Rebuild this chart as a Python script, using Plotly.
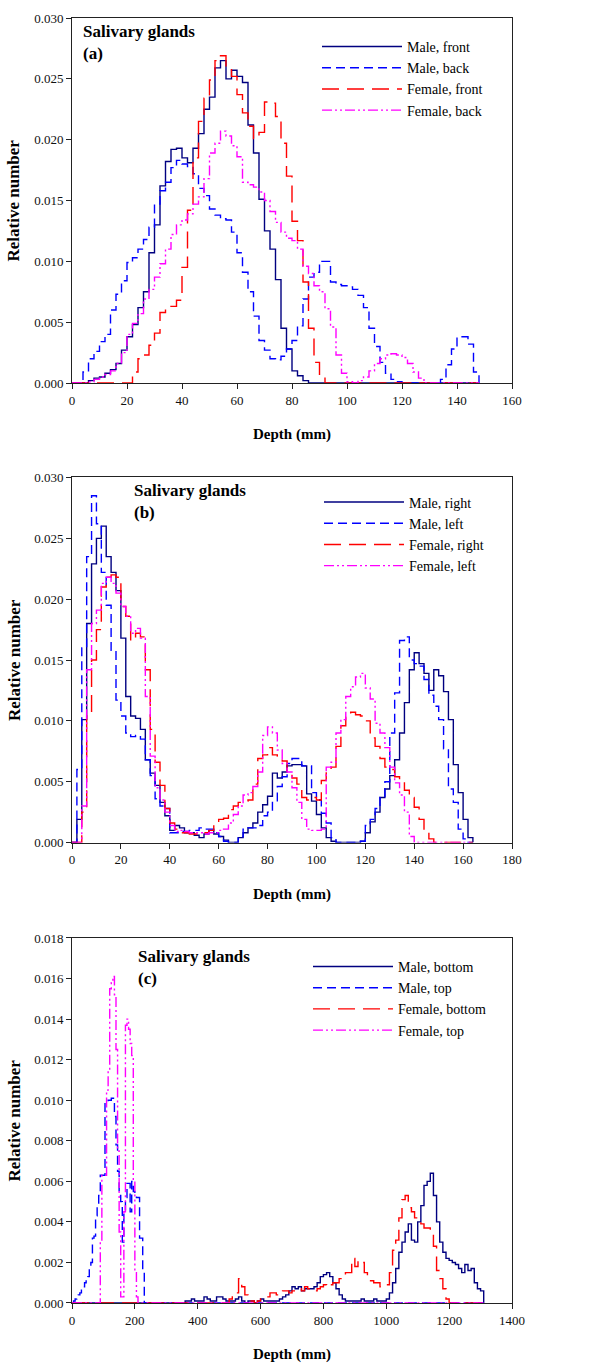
import plotly.graph_objects as go

# ---------------- Panel (a): front / back, 2 mm bins ----------------
A_BIN = 2
A_END = 148
A_MALE_FRONT_START = 6
A_MALE_FRONT = [
    .0002, .0004, .0005, .0008, .0011, .0016, .0027, .0038, .0048, .0062,
    .0075, .0107, .013, .0162, .0182, .0192, .0193, .0185, .0181, .0193,
    .0205, .0225, .0235, .0259, .0265, .025, .0257, .0252, .0247, .0212,
    .0189, .0151, .0125, .011, .0085, .0045, .0028, .001, .0006, .0002]
A_MALE_BACK_START = 4
A_MALE_BACK = [
    .0009, .002, .0026, .0034, .004, .006, .0073, .0084, .0099, .0103,
    .011, .0118, .0128, .0147, .0158, .0165, .0177, .0183, .018, .0178,
    .0172, .016, .0154, .0143, .0138, .0135, .0134, .0124, .0107, .0091,
    .0075, .0055, .0035, .0027, .002, .0019, .0022, .0028, .0035, .0047,
    .0069, .0087, .0091, .01, .01, .0083, .0081, .008, .0079, .0077,
    .0072, .0062, .0045, .003, .0017, .0008, .0003, .0001, 0, 0,
    0, 0, 0, 0, 0, .0003, .0015, .0028, .0038, .0038,
    .0032, .0009]
A_FEMALE_FRONT_START = 22
A_FEMALE_FRONT = [
    .0009, .002, .0023, .0031, .0041, .0058, .0062, .0063, .0068, .0095,
    .0142, .0185, .0215, .0234, .0249, .0265, .0269, .026, .0252, .0237,
    .0222, .0211, .0201, .0206, .0231, .023, .0219, .0197, .017, .0133,
    .0117, .0083, .0045, .0017, .0004]
A_FEMALE_BACK_START = 6
A_FEMALE_BACK = [
    .0001, .0003, .0005, .0007, .001, .0016, .0025, .004, .0049, .0057,
    .0069, .0077, .0087, .0098, .011, .0122, .013, .0134, .0139, .0147,
    .0153, .0168, .0189, .0197, .0207, .0203, .0195, .0186, .0165, .0163,
    .0161, .0157, .015, .0141, .0132, .0124, .0119, .0117, .011, .0096,
    .009, .008, .0075, .0061, .0046, .0023, .0008, .0001, 0, .0002,
    .0005, .001, .0016, .002, .0023, .0024, .0023, .0021, .0016, .0009, .0004]

# ---------------- Panel (b): right / left, 2 mm bins ----------------
B_BIN = 2
B_END = 164
B_MALE_RIGHT_START = 2
B_MALE_RIGHT = [
    .0019, .0101, .018, .0229, .025, .026, .0235, .0222, .0207, .0168,
    .012, .0104, .0102, .0093, .0068, .0057, .0047, .0033, .0022, .001,
    .0014, .0012, .0008, .0008, .0006, .0004, .0007, .001, .0007, .0005,
    .0002, 0, 0, .0004, .0008, .0012, .0016, .0025, .0031, .0038,
    .0057, .0053, .0058, .0063, .0064, .0064, .0063, .004, .0034, .0023,
    .0012, .0004, .0001, 0, 0, 0, 0, 0, .0001, .0008,
    .0017, .0025, .0037, .0044, .0055, .0068, .009, .0115, .0142, .0156,
    .0147, .0139, .0125, .0142, .0137, .0124, .0101, .0064, .0041, .0019,
    .0004]
B_MALE_LEFT_START = 2
B_MALE_LEFT = [
    .006, .016, .0235, .0285, .0262, .0222, .0195, .0158, .0117, .0104,
    .009, .0087, .0088, .0085, .0068, .0055, .0036, .003, .0028, .0008,
    .0008, .0009, .0009, .001, .001, .0012, .0011, .0011, .0008, .0005,
    .0001, 0, 0, .0005, .0011, .0012, .0012, .0014, .0022, .0025,
    .0033, .0046, .0054, .0065, .0069, .0069, .0063, .0063, .0041, .0035,
    .0024, .0016, .0004, 0, 0, 0, 0, 0, .0001, .0014,
    .0019, .0028, .0037, .005, .009, .0123, .0166, .0169, .015, .0147,
    .0145, .0134, .0121, .0112, .0101, .0077, .0044, .0033, .0011, .0003]
B_FEMALE_RIGHT_START = 4
B_FEMALE_RIGHT = [
    .0025, .0104, .015, .0175, .021, .0218, .022, .0218, .0194, .0186,
    .0166, .0172, .0169, .0142, .0093, .0066, .0047, .0028, .0016, .0011,
    .0008, .0008, .0007, .0007, .0007, .0008, .001, .0015, .0019, .002,
    .0027, .003, .0033, .0034, .0035, .0048, .0069, .0072, .0078, .0072,
    .0071, .0067, .0058, .0053, .0048, .0037, .0035, .0037, .0035, .0051,
    .0058, .0062, .0079, .0096, .0103, .0107, .0105, .0104, .01, .0086,
    .0079, .0069, .0062, .006, .0054, .005, .0043, .0037, .0029, .0019,
    .0009, .0003]
B_FEMALE_LEFT_START = 4
B_FEMALE_LEFT = [
    .003, .0142, .018, .0191, .0213, .0218, .0213, .0205, .0194, .0186,
    .0172, .0176, .0168, .012, .0071, .0045, .0035, .0025, .0014, .0009,
    .001, .0009, .0008, .0008, .0008, .0007, .0008, .0008, .001, .0011,
    .0016, .0023, .003, .0039, .0041, .0046, .0058, .0088, .0095, .009,
    .0076, .0065, .0058, .0045, .0033, .0019, .0011, .001, .001, .0011,
    .0062, .0066, .009, .0101, .012, .0128, .0136, .0139, .0127, .0118,
    .0098, .009, .0078, .0062, .0049, .0039, .0025, .0005]

# ---------------- Panel (c): bottom / top ----------------
C_END = 1310
C_TOP_BIN = 5
C_BOTTOM_BIN = 10
C_MALE_BOTTOM_START = 360
C_MALE_BOTTOM = [
    .0001, .0001, .0002, .0001, .0001, .0001, .0003, .0002, .0001, .0001,
    .0003, .0003, .0002, .0001, .0001, .0001, .0002, .0003, .0001, 0,
    .0001, .0001, 0, .0001, .0002, .0001, .0001, .0001, .0001, .0001,
    .0002, .0003, .0004, .0006, .0008, .0007, .0008, .0006, .0007, .0007,
    .0007, .0008, .001, .0013, .0014, .0015, .0013, .001, .0007, .0004,
    .0002, .0001, .0001, .0001, .0001, .0001, .0002, .0001, .0001, .0001,
    .0002, .0001, .0001, .0001, .0002, .0005, .001, .0017, .0025, .003,
    .0035, .0039, .0031, .003, .004, .0048, .0058, .006, .0064, .0053,
    .004, .003, .0025, .0022, .0021, .002, .0019, .0017, .0015, .0019,
    .0016, .0017, .001, .0007, .0006]
C_MALE_TOP_START = 5
C_MALE_TOP = [
    .0001, .0002, .0003, .0004, .0005, .0007, .0008, .001, .0012, .0013,
    .0017, .002, .0032, .0033, .0043, .0048, .0053, .0063, .0063, .0063,
    .0099, .0099, .01, .01, .0101, .0101, .0092, .0078, .0065, .0053,
    .005, .003, .0045, .0052, .0059, .0059, .0045, .006, .0055, .0053,
    .0052, .0052, .0032, .0032, .0017]
C_FEMALE_BOTTOM_START = 500
C_FEMALE_BOTTOM = [
    .0002, .0004, .0005, .0012, .0008, .0004, .0001, .0001, 0, .0001,
    .0002, .0003, .0003, .0005, .0005, .0004, .0004, .0006, .0006, .0005,
    .0006, .0007, .0007, .0006, .0008, .0007, .0006, .0006, .0007, .0008,
    .0009, .0008, .0009, .001, .001, .0012, .0012, .0015, .0015, .0022,
    .0018, .0021, .002, .0015, .0012, .0011, .001, .001, .0008, .0008,
    .0009, .0015, .0026, .0031, .0042, .0051, .0053, .0047, .0045, .0042,
    .004, .0039, .0037, .0037, .0036, .0028, .0016, .0012, .0007, .0002]
C_FEMALE_TOP_START = 90
C_FEMALE_TOP = [
    .003, .0063, .0063, .0063, .0105, .0115, .0155, .0158, .0161, .0152,
    .0125, .0075, .0035, .0003, .0003, .0045, .0137, .014, .0135, .0128,
    .0122, .006, .0015, .0003]

PANELS = [
    dict(tag="(a)", xmax=160, xdtick=20, ymax=0.030, ydtick=0.005, end=A_END,
         names=["Male, front", "Male, back", "Female, front", "Female, back"],
         data=[(A_MALE_FRONT_START, A_BIN, A_MALE_FRONT), (A_MALE_BACK_START, A_BIN, A_MALE_BACK),
               (A_FEMALE_FRONT_START, A_BIN, A_FEMALE_FRONT), (A_FEMALE_BACK_START, A_BIN, A_FEMALE_BACK)]),
    dict(tag="(b)", xmax=180, xdtick=20, ymax=0.030, ydtick=0.005, end=B_END,
         names=["Male, right", "Male, left", "Female, right", "Female, left"],
         data=[(B_MALE_RIGHT_START, B_BIN, B_MALE_RIGHT), (B_MALE_LEFT_START, B_BIN, B_MALE_LEFT),
               (B_FEMALE_RIGHT_START, B_BIN, B_FEMALE_RIGHT), (B_FEMALE_LEFT_START, B_BIN, B_FEMALE_LEFT)]),
    dict(tag="(c)", xmax=1400, xdtick=200, ymax=0.018, ydtick=0.002, end=C_END,
         names=["Male, bottom", "Male, top", "Female, bottom", "Female, top"],
         data=[(C_MALE_BOTTOM_START, C_BOTTOM_BIN, C_MALE_BOTTOM), (C_MALE_TOP_START, C_TOP_BIN, C_MALE_TOP),
               (C_FEMALE_BOTTOM_START, C_BOTTOM_BIN, C_FEMALE_BOTTOM), (C_FEMALE_TOP_START, C_TOP_BIN, C_FEMALE_TOP)]),
]

STYLES = [
    dict(color="#000080", dash="solid"),
    dict(color="#0000ff", dash="9px,5px"),
    dict(color="#ff0000", dash="17px,8px"),
    dict(color="#ff00ff", dash="10px,3px,2px,3px,2px,3px"),
]


def steps(start, width, vals, end):
    n = int(round(end / width))
    ys = [0.0] * n
    i0 = int(round(start / width))
    for k, v in enumerate(vals):
        ys[i0 + k] = v
    xs = [i * width for i in range(n)] + [end]
    ys = ys + [0.0]
    return xs, ys


# pixel geometry (page 611 x 1366)
W, H = 611, 1366
ML, MR, MT, MB = 72, 99, 11, 63
PLOT_H = H - MT - MB
panel_px = [(11, 378), (473, 840), (936, 1303)]  # top, bottom pixel rows


def py2paper(py):
    return (H - MB - py) / PLOT_H


def px2paper(px):
    return (px - ML) / (W - ML - MR)


SERIF = "Liberation Serif, Times New Roman, serif"
fig = go.Figure()
layout = dict(
    width=W, height=H,
    margin=dict(l=ML, r=MR, t=MT, b=MB),
    paper_bgcolor="white", plot_bgcolor="white",
    font=dict(family=SERIF, size=13, color="black"),
    showlegend=True,
)
annotations = []
legend_pos = [(317, 24), (319, 482), (308, 949)]
title_pos = [(81, 13), (132, 475), (136, 943)]

for p, panel in enumerate(PANELS):
    idx = "" if p == 0 else str(p + 1)
    xa, ya = "x" + idx, "y" + idx
    leg = "legend" + idx
    top, bot = panel_px[p]
    for s, (start, width, vals) in enumerate(panel["data"]):
        xs, ys = steps(start, width, vals, panel["end"])
        fig.add_trace(go.Scatter(
            x=xs, y=ys, mode="lines", line_shape="hv", name=panel["names"][s],
            line=dict(color=STYLES[s]["color"], dash=STYLES[s]["dash"], width=1.4),
            xaxis=xa, yaxis=ya, legend=leg, hoverinfo="skip"))
    axis_common = dict(showgrid=False, zeroline=False, showline=True, linecolor="#222",
                       linewidth=1, mirror=True, ticks="outside", ticklen=5, tickwidth=1,
                       tickcolor="#222", tickfont=dict(family=SERIF, size=13, color="#111"))
    layout["xaxis" + idx] = dict(axis_common, range=[0, panel["xmax"]], dtick=panel["xdtick"],
                                 tick0=0, anchor=ya, domain=[0, 1])
    layout["yaxis" + idx] = dict(axis_common, range=[0, panel["ymax"]], dtick=panel["ydtick"],
                                 tick0=0, tickformat=".3f", anchor=xa,
                                 domain=[py2paper(bot), py2paper(top)])
    lx, ly = legend_pos[p]
    layout[leg] = dict(x=px2paper(lx), y=py2paper(ly), xanchor="left", yanchor="top",
                       bgcolor="rgba(0,0,0,0)", borderwidth=0, itemwidth=80,
                       font=dict(family=SERIF, size=14, color="black"),
                       tracegroupgap=0, traceorder="normal")
    tx, ty = title_pos[p]
    annotations.append(dict(text="<b>Salivary glands</b><br><b>" + panel["tag"] + "</b>",
                            x=px2paper(tx), y=py2paper(ty), xref="paper", yref="paper",
                            xanchor="left", yanchor="top", align="left", showarrow=False,
                            font=dict(family=SERIF, size=17, color="black")))
    annotations.append(dict(text="<b>Depth (mm)</b>", x=px2paper(292), y=py2paper(bot + 52),
                            xref="paper", yref="paper", xanchor="center", yanchor="middle",
                            showarrow=False, font=dict(family=SERIF, size=15, color="black")))
    annotations.append(dict(text="<b>Relative number</b>", x=px2paper(14), y=py2paper((top + bot) / 2),
                            xref="paper", yref="paper", xanchor="center", yanchor="middle",
                            textangle=-90, showarrow=False,
                            font=dict(family=SERIF, size=17, color="black")))

layout["annotations"] = annotations
fig.update_layout(**layout)
fig.write_html("out.html")
